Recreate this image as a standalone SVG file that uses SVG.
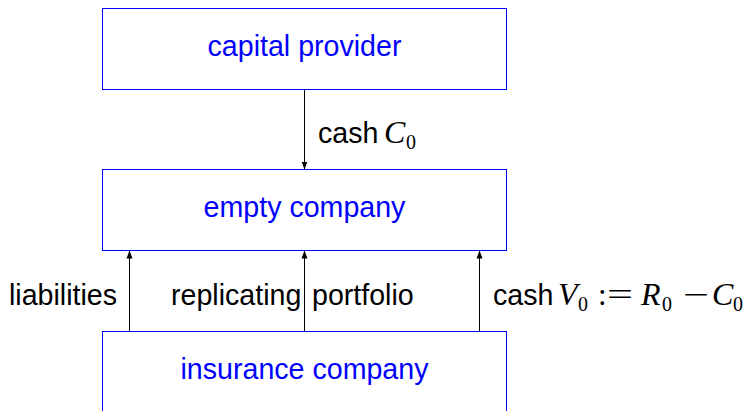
<svg xmlns="http://www.w3.org/2000/svg" width="743" height="411" viewBox="0 0 743 411">
<style>
.box{fill:#fff;stroke:#0000ff;stroke-width:1}
.nt{font-family:"Liberation Sans",Arial,sans-serif;font-size:28.6px;fill:#0000ff;text-anchor:middle}
.lb{font-family:"Liberation Sans",Arial,sans-serif;font-size:28.6px;fill:#000}
.m{font-family:"Liberation Serif","Times New Roman",serif;font-style:italic;font-size:32px;fill:#000}
.mr{font-family:"Liberation Serif","Times New Roman",serif;font-size:31px;fill:#000}
.sub{font-family:"Liberation Serif","Times New Roman",serif;font-size:20px;fill:#000}
.ln{stroke:#000;stroke-width:1;fill:none}
</style>
<defs>
<marker id="ah" markerWidth="8" markerHeight="8" viewBox="0 0 8 8" refX="8" refY="4" orient="auto" markerUnits="userSpaceOnUse">
<path d="M0,1 L8,4 L0,7 Z" fill="#000"/>
</marker>
</defs>
<g id="capital-provider">
<rect class="box" x="102.5" y="8.5" width="404" height="81"/>
<text class="nt" x="304.5" y="56">capital provider</text>
</g>
<g id="empty-company">
<rect class="box" x="102.5" y="169.5" width="404" height="81"/>
<text class="nt" x="304.5" y="217">empty company</text>
</g>
<g id="insurance-company">
<rect class="box" x="102.5" y="331.5" width="404" height="90"/>
<text class="nt" x="304.5" y="379">insurance company</text>
</g>
<g id="connectors">
<line class="ln" x1="304.5" y1="89.5" x2="304.5" y2="169.5" marker-end="url(#ah)"/>
<line class="ln" x1="129.5" y1="331.5" x2="129.5" y2="250.5" marker-end="url(#ah)"/>
<line class="ln" x1="304.5" y1="331.5" x2="304.5" y2="250.5" marker-end="url(#ah)"/>
<line class="ln" x1="479.5" y1="331.5" x2="479.5" y2="250.5" marker-end="url(#ah)"/>
</g>
<g id="labels">
<text class="lb" x="318" y="143">cash</text>
<text class="m" x="384" y="143">C</text>
<text class="sub" x="406" y="149">0</text>
<text class="lb" x="9" y="305">liabilities</text>
<text class="lb" x="171" y="305">replicating</text>
<text class="lb" x="312" y="305">portfolio</text>
<text class="lb" x="493" y="305">cash</text>
<text class="m" x="558" y="305">V</text>
<text class="sub" x="578" y="311">0</text>
<text class="mr" x="598" y="305">:</text>
<text class="mr" x="607" y="305" textLength="26" lengthAdjust="spacingAndGlyphs">=</text>
<text class="m" x="641" y="305">R</text>
<text class="sub" x="662" y="311">0</text>
<text class="mr" x="683" y="305" textLength="26" lengthAdjust="spacingAndGlyphs">−</text>
<text class="m" x="712" y="305">C</text>
<text class="sub" x="733" y="311">0</text>
</g>
</svg>
